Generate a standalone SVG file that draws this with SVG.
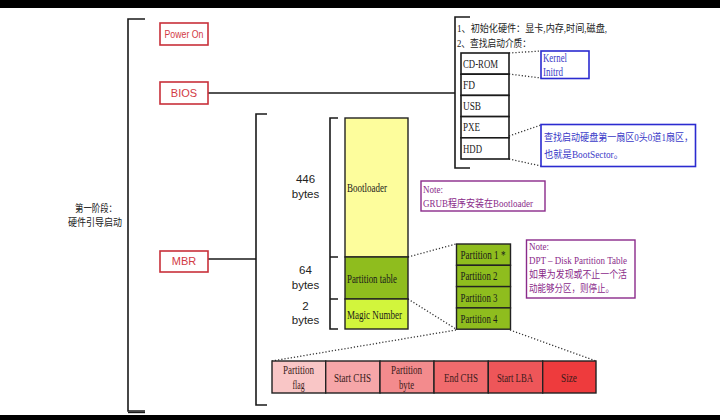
<svg xmlns="http://www.w3.org/2000/svg" width="720" height="420" viewBox="0 0 720 420">
<style>
.br{fill:none;stroke:#1a1a1a;stroke-width:1.6}
.ln{fill:none;stroke:#1a1a1a;stroke-width:1.4}
.dot{fill:none;stroke:#333;stroke-width:1.3;stroke-dasharray:1.2 2}
.rbox{fill:#fff;stroke:#c8303a;stroke-width:1.6}
.rtx{font-family:"Liberation Sans",Arial,sans-serif;font-size:11px;fill:#d23a44;text-anchor:middle}
.sn{font-family:"Liberation Sans",Arial,sans-serif;font-size:11.5px;fill:#222;text-anchor:middle}
.sf{font-family:"Liberation Serif","Noto Sans CJK SC",serif;font-size:12.5px;fill:#1a1a1a}
.cj{font-family:"Liberation Serif","Noto Sans CJK SC",serif;font-size:10.5px}
.kbox{fill:#fff;stroke:#1a1a1a;stroke-width:1.6}
.bbox{fill:#fff;stroke:#2b2bd0;stroke-width:1.6}
.pbox{fill:#fff;stroke:#8a2a8a;stroke-width:1.4}
.btx{fill:#3a3ac8}
.ptx{fill:#8a2a8a}
.cell{stroke:#222;stroke-width:1.4}
.ct{font-family:"Liberation Serif",serif;font-size:12px;fill:#3a1a1a;text-anchor:middle}
</style>
<rect x="0" y="0" width="720" height="420" fill="#ffffff"/>
<rect x="0" y="0" width="720" height="8" fill="#000"/>
<rect x="0" y="415" width="720" height="5" fill="#000"/>

<g id="stage-label">
<text class="cj" x="96" y="212" text-anchor="middle" fill="#222" textLength="42" lengthAdjust="spacingAndGlyphs">第一阶段：</text>
<text class="cj" x="95" y="226" text-anchor="middle" fill="#222" textLength="54" lengthAdjust="spacingAndGlyphs">硬件引导启动</text>
</g>

<g id="connectors">
<path class="br" d="M145,19 H128 V411 H145"/>
<path class="ln" d="M128,412.5 H145"/>
<path class="ln" d="M208,93 H455"/>
<path class="br" d="M470,17 H455 V168 H470"/>
<path class="ln" d="M208,259 H256"/>
<path class="br" d="M267,114 H256 V405 H267"/>
<path class="br" d="M338,118 H330 V329 H338 M330,257 H338 M330,299 H338"/>
<path class="dot" d="M509,53 L541,51 M509,74 L541,78"/>
<path class="dot" d="M509,136 L541,125 M509,159 L541,166"/>
<path class="dot" d="M408,257 L456,244 M408,299 L456,329"/>
<path class="dot" d="M456,330 L272,361 M510,330 L596,361"/>
</g>

<g id="power-on">
<rect class="rbox" x="160" y="23" width="48" height="22"/>
<text class="rtx" x="184" y="37.8" textLength="39" lengthAdjust="spacingAndGlyphs">Power On</text>
</g>
<g id="bios">
<rect class="rbox" x="160" y="82" width="48" height="22"/>
<text class="rtx" x="184" y="96.8">BIOS</text>
</g>
<g id="mbr">
<rect class="rbox" x="160" y="251" width="48" height="21"/>
<text class="rtx" x="184" y="265.3">MBR</text>
</g>

<g id="bios-notes">
<text class="cj" x="457" y="31.5" fill="#222" textLength="150" lengthAdjust="spacingAndGlyphs">1、初始化硬件：显卡,内存,时间,磁盘,</text>
<text class="cj" x="457" y="46.5" fill="#222" textLength="74" lengthAdjust="spacingAndGlyphs">2、查找启动介质：</text>
</g>

<g id="boot-media">
<rect class="kbox" x="461" y="53" width="48" height="21.2"/>
<text class="sf" x="463" y="67.8" textLength="35" lengthAdjust="spacingAndGlyphs">CD-ROM</text>
<rect class="kbox" x="461" y="74.2" width="48" height="21.2"/>
<text class="sf" x="463" y="89" textLength="12" lengthAdjust="spacingAndGlyphs">FD</text>
<rect class="kbox" x="461" y="95.4" width="48" height="21.2"/>
<text class="sf" x="463" y="110.2" textLength="18" lengthAdjust="spacingAndGlyphs">USB</text>
<rect class="kbox" x="461" y="116.6" width="48" height="21.2"/>
<text class="sf" x="463" y="131.4" textLength="17" lengthAdjust="spacingAndGlyphs">PXE</text>
<rect class="kbox" x="461" y="137.8" width="48" height="21.2"/>
<text class="sf" x="463" y="152.6" textLength="19" lengthAdjust="spacingAndGlyphs">HDD</text>
</g>

<g id="kernel-note">
<rect class="bbox" x="541" y="51" width="48" height="27.5"/>
<text class="sf btx" x="543" y="61.5" textLength="24" lengthAdjust="spacingAndGlyphs">Kernel</text>
<text class="sf btx" x="543" y="75.5" textLength="20" lengthAdjust="spacingAndGlyphs">Initrd</text>
</g>

<g id="hdd-note">
<rect class="bbox" x="541" y="124.5" width="154.5" height="42"/>
<text class="cj btx" x="544" y="141" textLength="149" lengthAdjust="spacingAndGlyphs">查找启动硬盘第一扇区0头0道1扇区，</text>
<text class="cj btx" x="544" y="158" textLength="79" lengthAdjust="spacingAndGlyphs">也就是BootSector。</text>
</g>

<g id="byte-labels">
<text class="sn" x="305.5" y="183">446</text>
<text class="sn" x="305.5" y="197.5">bytes</text>
<text class="sn" x="305.5" y="274">64</text>
<text class="sn" x="305.5" y="288.5">bytes</text>
<text class="sn" x="305.5" y="310">2</text>
<text class="sn" x="305.5" y="324">bytes</text>
</g>

<g id="bootloader">
<rect x="345" y="118" width="63" height="139" fill="#fdfd9c" stroke="#222" stroke-width="1.4"/>
<text class="sf" x="347" y="191.5" textLength="40" lengthAdjust="spacingAndGlyphs">Bootloader</text>
</g>
<g id="partition-table">
<rect x="345" y="257" width="63" height="42" fill="#8fbd1e" stroke="#222" stroke-width="1.4"/>
<text class="sf" x="347" y="282.5" textLength="50" lengthAdjust="spacingAndGlyphs">Partition table</text>
</g>
<g id="magic-number">
<rect x="345" y="299" width="63" height="30" fill="#d2f53c" stroke="#222" stroke-width="1.4"/>
<text class="sf" x="347" y="318.5" textLength="55" lengthAdjust="spacingAndGlyphs">Magic Number</text>
</g>

<g id="grub-note">
<rect class="pbox" x="421" y="181" width="124" height="30"/>
<text class="cj ptx" x="423" y="193" textLength="20" lengthAdjust="spacingAndGlyphs">Note:</text>
<text class="cj ptx" x="423" y="206.5" textLength="110" lengthAdjust="spacingAndGlyphs">GRUB程序安装在Bootloader</text>
</g>

<g id="partitions">
<rect x="456.5" y="244" width="54" height="21.3" fill="#8fbd1e" stroke="#222" stroke-width="1.4"/>
<text class="sf" x="460.5" y="259" textLength="45" lengthAdjust="spacingAndGlyphs">Partition 1 *</text>
<rect x="456.5" y="265.3" width="54" height="21.3" fill="#8fbd1e" stroke="#222" stroke-width="1.4"/>
<text class="sf" x="460.5" y="280.3" textLength="37" lengthAdjust="spacingAndGlyphs">Partition 2</text>
<rect x="456.5" y="286.6" width="54" height="21.3" fill="#8fbd1e" stroke="#222" stroke-width="1.4"/>
<text class="sf" x="460.5" y="301.6" textLength="37" lengthAdjust="spacingAndGlyphs">Partition 3</text>
<rect x="456.5" y="307.9" width="54" height="21.3" fill="#8fbd1e" stroke="#222" stroke-width="1.4"/>
<text class="sf" x="460.5" y="322.9" textLength="37" lengthAdjust="spacingAndGlyphs">Partition 4</text>
</g>

<g id="dpt-note">
<rect class="pbox" x="526.5" y="240" width="108.5" height="58"/>
<text class="cj ptx" x="529" y="250" textLength="20" lengthAdjust="spacingAndGlyphs">Note:</text>
<text class="cj ptx" x="529" y="264" textLength="98" lengthAdjust="spacingAndGlyphs">DPT – Disk Partition Table</text>
<text class="cj ptx" x="529" y="278" textLength="98" lengthAdjust="spacingAndGlyphs">如果为发现或不止一个活</text>
<text class="cj ptx" x="529" y="292" textLength="85" lengthAdjust="spacingAndGlyphs">动能够分区，则停止。</text>
</g>

<g id="partition-entry">
<rect class="cell" x="272" y="361" width="53.7" height="32" fill="#f9c6c6"/>
<rect class="cell" x="325.7" y="361" width="54.3" height="32" fill="#f6a6a8"/>
<rect class="cell" x="380" y="361" width="54" height="32" fill="#f38b8d"/>
<rect class="cell" x="434" y="361" width="54.3" height="32" fill="#f06b6d"/>
<rect class="cell" x="488.3" y="361" width="54.4" height="32" fill="#ee5659"/>
<rect class="cell" x="542.7" y="361" width="53.3" height="32" fill="#ee3b3d"/>
<text class="ct" x="298.5" y="374" textLength="31" lengthAdjust="spacingAndGlyphs">Partition</text>
<text class="ct" x="298.5" y="388.5" textLength="12" lengthAdjust="spacingAndGlyphs">flag</text>
<text class="ct" x="352.5" y="381.5" textLength="37" lengthAdjust="spacingAndGlyphs">Start CHS</text>
<text class="ct" x="406.5" y="374" textLength="31" lengthAdjust="spacingAndGlyphs">Partition</text>
<text class="ct" x="406.5" y="388.5" textLength="15" lengthAdjust="spacingAndGlyphs">byte</text>
<text class="ct" x="461" y="381.5" textLength="34" lengthAdjust="spacingAndGlyphs">End CHS</text>
<text class="ct" x="515" y="381.5" textLength="36" lengthAdjust="spacingAndGlyphs">Start LBA</text>
<text class="ct" x="569" y="381.5" textLength="16" lengthAdjust="spacingAndGlyphs">Size</text>
</g>
</svg>
